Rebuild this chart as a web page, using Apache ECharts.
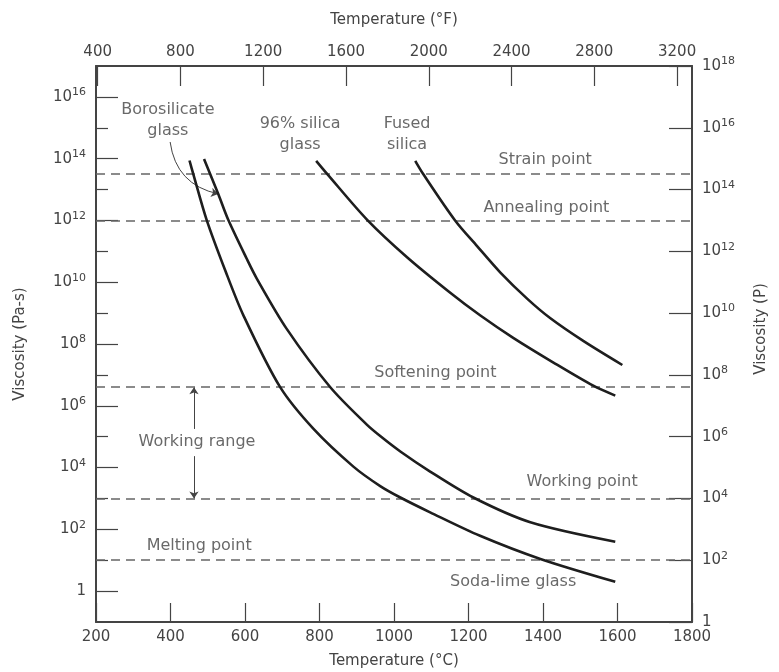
<!DOCTYPE html>
<html>
<head>
<meta charset="utf-8">
<script src="https://cdn.jsdelivr.net/npm/echarts@6/dist/echarts.min.js"></script>
<style>
  html, body { margin: 0; padding: 0; background: #fff; }
  #chart { width: 779px; height: 672px; }
</style>
</head>
<body>
<div id="chart"></div>
<script>
// Viscosity curves: temperature in °C, viscosity as log10 of Pa·s
const sodaLimeT   = [451, 461, 497, 547, 596, 694, 784, 891, 963, 1017, 1097, 1231, 1393, 1594];
const sodaLimeLog = [13.94, 13.51, 12.02, 10.38, 8.92, 6.61, 5.25, 4.03, 3.40, 3.03, 2.55, 1.79, 1.04, 0.30];

const boroT   = [490, 529, 555, 605, 632, 712, 829, 927, 963, 1017, 1097, 1213, 1366, 1594];
const boroLog = [13.99, 12.83, 12.02, 10.75, 10.11, 8.49, 6.60, 5.39, 5.02, 4.52, 3.87, 3.03, 2.23, 1.60];

const silica96T   = [791, 821, 928, 1035, 1151, 1231, 1320, 1428, 1535, 1594];
const silica96Log = [13.93, 13.50, 12.02, 10.81, 9.66, 8.93, 8.20, 7.40, 6.65, 6.33];

const fusedT   = [1057, 1078, 1164, 1223, 1285, 1358, 1419, 1508, 1613];
const fusedLog = [13.93, 13.51, 12.00, 11.17, 10.32, 9.46, 8.84, 8.10, 7.32];

// Characteristic viscosity levels (log10 Pa·s)
const levelNames = ['Strain point', 'Annealing point', 'Softening point', 'Working point', 'Melting point'];
const levelLog   = [13.5, 12.0, 6.6, 3.0, 1.0];

// Axis ticks
const celsiusTicks    = [200, 400, 600, 800, 1000, 1200, 1400, 1600, 1800];
const fahrenheitTicks = [400, 800, 1200, 1600, 2000, 2400, 2800, 3200];
const paMajorExp      = [0, 2, 4, 6, 8, 10, 12, 14, 16];
const paMinorExp      = [1, 3, 5, 7, 9, 11, 13, 15];
const poiseExp        = [0, 2, 4, 6, 8, 10, 12, 14, 16, 18];

// Text annotations: [text, °C, log10 Pa·s]
const notes = [
  ['Strain point',          1406, 13.96],
  ['Annealing point',       1409, 12.40],
  ['Softening point',       1111, 7.06],
  ['Working point',         1505, 3.53],
  ['Melting point',          477, 1.46],
  ['Working range',          471, 4.83],
  ['Soda-lime glass',       1320, 0.29],
  ['Borosilicate\nglass',    393, 15.25],
  ['96% silica\nglass',      748, 14.78],
  ['Fused\nsilica',         1035, 14.78]
];

// Arrow from the borosilicate label to its curve, and the working-range arrows
const boroPointer  = [[399, 14.54], [528, 12.86]];
const rangeArrowUp = [[463, 5.25], [463, 6.6]];
const rangeArrowDn = [[463, 4.37], [463, 3.0]];

const pow10 = e => Math.pow(10, e);
const toF = c => c * 9 / 5 + 32;
const pairs = (ts, ls) => ts.map((t, i) => [t, pow10(ls[i])]);

const FONT = 'DejaVu Sans';
const INK = '#444';
const CURVE = '#1e1e1e';

const supLabel = v => {
  const e = Math.round(Math.log10(v));
  return e === 0 ? '{b|1}' : '{b|10}{s|' + e + '}';
};
const richSup = {
  b: { fontSize: 15, color: INK, fontFamily: FONT },
  s: { fontSize: 11, color: INK, fontFamily: FONT, verticalAlign: 'bottom', padding: [0, 0, 9, 0] }
};
const plainNum = v => String(v);

// Moderate smoothing keeps bezier control points from crossing on the steep bends
const curveSeries = (name, ts, ls) => ({
  name, type: 'line', xAxisIndex: 0, yAxisIndex: 0,
  data: pairs(ts, ls), smooth: 0.3, symbol: 'none',
  lineStyle: { color: CURVE, width: 2.6 }, z: 5, silent: true
});

const chart = echarts.init(document.getElementById('chart'), null, { renderer: 'canvas' });

chart.setOption({
  animation: false,
  backgroundColor: '#fff',
  grid: { left: 96, right: 87, top: 66, bottom: 50, outerBoundsMode: 'none' },
  xAxis: [
    {
      type: 'value', position: 'bottom', min: 200, max: 1800, interval: 200,
      name: 'Temperature (°C)', nameLocation: 'middle', nameGap: 32,
      nameTextStyle: { color: INK, fontSize: 15, fontFamily: FONT },
      axisLine: { lineStyle: { color: INK, width: 2 } },
      axisTick: { inside: true, length: 19, lineStyle: { color: INK, width: 1.2 }, customValues: celsiusTicks },
      axisLabel: { color: INK, fontSize: 15, fontFamily: FONT, margin: 8, formatter: plainNum, customValues: celsiusTicks },
      splitLine: { show: false }
    },
    {
      type: 'value', position: 'top', min: toF(200), max: toF(1800),
      name: 'Temperature (°F)', nameLocation: 'middle', nameGap: 38,
      nameTextStyle: { color: INK, fontSize: 15, fontFamily: FONT },
      axisLine: { lineStyle: { color: INK, width: 2 } },
      axisTick: { inside: true, length: 20, lineStyle: { color: INK, width: 1.2 }, customValues: fahrenheitTicks },
      axisLabel: { color: INK, fontSize: 15, fontFamily: FONT, margin: 6, formatter: plainNum, customValues: fahrenheitTicks },
      splitLine: { show: false }
    }
  ],
  yAxis: [
    {
      type: 'log', logBase: 10, position: 'left', min: 0.1, max: 1e17,
      name: 'Viscosity (Pa-s)', nameLocation: 'middle', nameGap: 68,
      nameTextStyle: { color: INK, fontSize: 15, fontFamily: FONT },
      axisLine: { lineStyle: { color: INK, width: 2 } },
      axisTick: { inside: true, length: 22, lineStyle: { color: INK, width: 1.2 }, customValues: paMajorExp.map(pow10) },
      axisLabel: { margin: 10, formatter: supLabel, rich: richSup, customValues: paMajorExp.map(pow10) },
      splitLine: { show: false }
    },
    {
      type: 'log', logBase: 10, position: 'left', min: 0.1, max: 1e17,
      axisLine: { show: false },
      axisTick: { inside: true, length: 12, lineStyle: { color: INK, width: 1.2 }, customValues: paMinorExp.map(pow10) },
      axisLabel: { show: false },
      splitLine: { show: false }
    },
    {
      // poise scale: 1 P = 0.1 Pa·s; the tiny headroom keeps the 10^18 tick inside the extent
      type: 'log', logBase: 10, position: 'right', min: 1, max: 1.000001e18,
      name: 'Viscosity (P)', nameLocation: 'middle', nameGap: 62,
      nameTextStyle: { color: INK, fontSize: 15, fontFamily: FONT, padding: [0, 0, 0, 30] },
      axisLine: { lineStyle: { color: INK, width: 2 } },
      axisTick: { inside: true, length: 23, lineStyle: { color: INK, width: 1.2 }, customValues: poiseExp.map(pow10) },
      axisLabel: { margin: 10, formatter: supLabel, rich: richSup, showMaxLabel: true, showMinLabel: true, hideOverlap: false, customValues: poiseExp.map(pow10) },
      splitLine: { show: false }
    }
  ],
  series: [
    curveSeries('Soda-lime glass', sodaLimeT, sodaLimeLog),
    curveSeries('Borosilicate glass', boroT, boroLog),
    curveSeries('96% silica glass', silica96T, silica96Log),
    curveSeries('Fused silica', fusedT, fusedLog),
    {
      name: 'levels', type: 'line', xAxisIndex: 0, yAxisIndex: 0, data: [], silent: true,
      markLine: {
        silent: true, symbol: 'none', label: { show: false },
        lineStyle: { color: '#666', width: 1.5, type: [9, 6] },
        data: levelLog.map((l, i) => ({ name: levelNames[i], yAxis: pow10(l) }))
      }
    },
    {
      name: 'pointers', type: 'lines', coordinateSystem: 'cartesian2d', xAxisIndex: 0, yAxisIndex: 0,
      silent: true, z: 4,
      symbol: ['none', 'arrow'], symbolSize: 7,
      lineStyle: { color: '#444', width: 1, opacity: 1 },
      data: [
        { coords: boroPointer.map(p => [p[0], pow10(p[1])]), lineStyle: { curveness: -0.35 } },
        { coords: rangeArrowUp.map(p => [p[0], pow10(p[1])]) },
        { coords: rangeArrowDn.map(p => [p[0], pow10(p[1])]) }
      ]
    },
    {
      name: 'notes', type: 'scatter', xAxisIndex: 0, yAxisIndex: 0, silent: true, z: 6,
      symbolSize: 1, itemStyle: { color: 'rgba(0,0,0,0)' },
      label: {
        show: true, position: 'inside', color: INK, fontSize: 16, fontFamily: FONT,
        lineHeight: 21, align: 'center', verticalAlign: 'middle',
        formatter: p => p.data.text
      },
      data: notes.map(n => ({ value: [n[1], pow10(n[2])], text: n[0] }))
    }
  ]
});
</script>
</body>
</html>
